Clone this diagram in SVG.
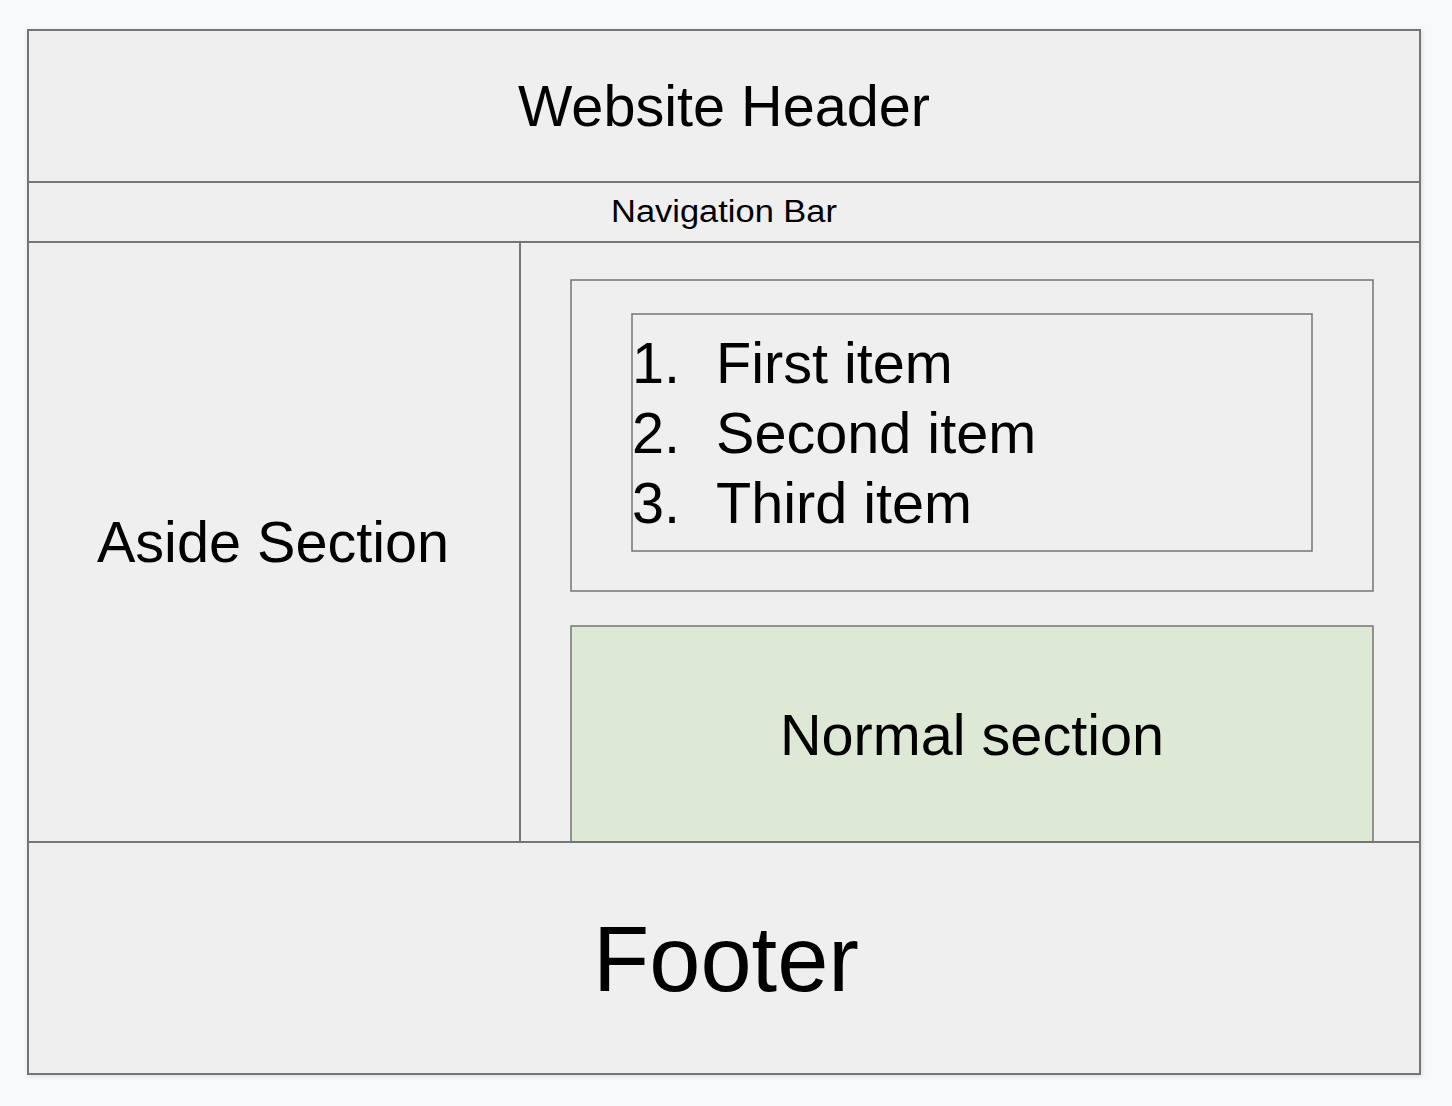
<svg xmlns="http://www.w3.org/2000/svg" width="1452" height="1106" viewBox="0 0 1452 1106">
  <style>
    .box { fill: #efefef; stroke: #757575; stroke-width: 2; }
    .thin { fill: #efefef; stroke: #757575; stroke-width: 1.5; }
    .green { fill: #dde8d5; stroke: #757575; stroke-width: 1.5; }
    .lbl { font-family: "Liberation Sans", Arial, sans-serif; fill: #000; }
    .mid { text-anchor: middle; }
  </style>
  <defs>
    <filter id="shadow" x="-5%" y="-5%" width="110%" height="110%">
      <feDropShadow dx="1" dy="1" stdDeviation="2" flood-color="#000" flood-opacity="0.12"/>
    </filter>
  </defs>

  <rect width="1452" height="1106" fill="#f8f9fa"/>

  <!-- page frame -->
  <rect x="28" y="30" width="1392" height="1044" class="box" filter="url(#shadow)"/>

  <g id="header">
    <rect x="28" y="30" width="1392" height="152" class="box"/>
    <text x="724" y="126" class="lbl mid" font-size="57.6">Website Header</text>
  </g>

  <g id="nav">
    <rect x="28" y="182" width="1392" height="60" class="box"/>
    <text x="611" y="222" class="lbl" font-size="31" textLength="226" lengthAdjust="spacingAndGlyphs">Navigation Bar</text>
  </g>

  <g id="aside">
    <rect x="28" y="242" width="492" height="600" class="box"/>
    <text x="273" y="562" class="lbl mid" font-size="57.6">Aside Section</text>
  </g>

  <g id="main">
    <rect x="520" y="242" width="900" height="600" class="box"/>
  </g>

  <g id="list-section">
    <rect x="571" y="280" width="802" height="311" class="thin"/>
  </g>

  <g id="list">
    <rect x="632" y="314" width="680" height="237" class="thin"/>
    <g class="lbl" font-size="57.6">
      <text x="632" y="383">1.</text>
      <text x="716" y="383">First item</text>
      <text x="632" y="453">2.</text>
      <text x="716" y="453">Second item</text>
      <text x="632" y="523">3.</text>
      <text x="716" y="523">Third item</text>
    </g>
  </g>

  <g id="normal-section">
    <rect x="571" y="626" width="802" height="216" class="green"/>
    <text x="972" y="755" class="lbl mid" font-size="57.6">Normal section</text>
  </g>

  <g id="footer">
    <rect x="28" y="842" width="1392" height="232" class="box"/>
    <text x="726" y="991" class="lbl mid" font-size="92">Footer</text>
  </g>

  <g id="connectors"></g>
</svg>
